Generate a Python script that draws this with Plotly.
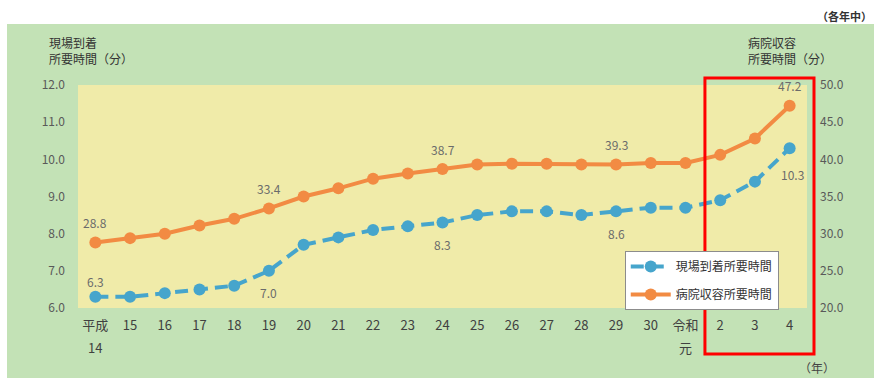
import plotly.graph_objects as go

# Fiscal years (Heisei 14 .. Reiwa 4); era names sit on a second line
years = ["平成", "15", "16", "17", "18", "19", "20", "21", "22", "23", "24",
         "25", "26", "27", "28", "29", "30", "令和", "2", "3", "4"]
year_second_line = {0: "14", 17: "元"}

# Minutes from call to arrival at scene (left axis)
arrival_min = [6.3, 6.3, 6.4, 6.5, 6.6, 7.0, 7.7, 7.9, 8.1, 8.2, 8.3,
               8.5, 8.6, 8.6, 8.5, 8.6, 8.7, 8.7, 8.9, 9.4, 10.3]

# Minutes from call to hospital admission (right axis)
hospital_min = [28.8, 29.4, 30.0, 31.1, 32.0, 33.4, 35.0, 36.1, 37.4, 38.1, 38.7,
                39.3, 39.4, 39.4, 39.3, 39.3, 39.5, 39.5, 40.6, 42.8, 47.2]

# Which points carry a value label
arrival_labelled = [0, 5, 10, 15, 20]
hospital_labelled = [0, 5, 10, 15, 20]

BLUE = "#46a5cc"
ORANGE = "#f28b43"
GREEN = "#c3e2b6"
YELLOW = "#f0eba9"
FONT = "Noto Sans CJK JP"

x_idx = list(range(len(years)))

fig = go.Figure()

fig.add_trace(go.Scatter(
    x=x_idx, y=arrival_min, name="現場到着所要時間",
    mode="lines+markers", yaxis="y", legendgroup="a",
    line=dict(color=BLUE, width=4, dash="13px,7px"),
    marker=dict(color=BLUE, size=12),
))
fig.add_trace(go.Scatter(
    x=x_idx, y=hospital_min, name="病院収容所要時間",
    mode="lines+markers", yaxis="y2", legendgroup="b",
    line=dict(color=ORANGE, width=4),
    marker=dict(color=ORANGE, size=12),
))

annotations = []
label_font = dict(family=FONT, size=12, color="#6b6b6b")
for i in arrival_labelled:
    above = (i == 0)
    annotations.append(dict(
        x=i, y=arrival_min[i], xref="x", yref="y",
        text=f"{arrival_min[i]:.1f}", showarrow=False, font=label_font,
        yshift=15 if above else (-26 if i == 20 else -22),
        xshift=3 if i == 20 else 0,
    ))
for i in hospital_labelled:
    annotations.append(dict(
        x=i, y=hospital_min[i], xref="x", yref="y2",
        text=f"{hospital_min[i]:.1f}", showarrow=False, font=label_font,
        yshift=20,
    ))

# second line of the era-name tick labels
for i, txt in year_second_line.items():
    annotations.append(dict(
        x=i, y=-0.175, xref="x", yref="paper", text=txt, showarrow=False,
        xanchor="center", yanchor="middle",
        font=dict(family=FONT, size=13, color="#404040"),
    ))

title_font = dict(family=FONT, size=12, color="#333333")
annotations += [
    dict(x=-0.042, y=1.155, xref="paper", yref="paper", xanchor="left",
         yanchor="middle", align="left", showarrow=False,
         text="現場到着<br>所要時間（分）", font=title_font),
    dict(x=0.917, y=1.155, xref="paper", yref="paper", xanchor="left",
         yanchor="middle", align="left", showarrow=False,
         text="病院収容<br>所要時間（分）", font=title_font),
    dict(x=1.092, y=1.31, xref="paper", yref="paper", xanchor="right",
         yanchor="middle", showarrow=False,
         text="<b>（各年中）</b>", font=dict(family=FONT, size=11, color="#333333")),
    dict(x=1.014, y=-0.265, xref="paper", yref="paper", xanchor="center",
         yanchor="middle", showarrow=False,
         text="（年）", font=dict(family=FONT, size=12, color="#444444")),
]

shapes = [
    # white margins around the green panel
    dict(type="rect", xref="paper", yref="paper", x0=-0.2, x1=1.2, y0=1.2735, y1=1.5,
         fillcolor="white", line_width=0, layer="below"),
    dict(type="rect", xref="paper", yref="paper", x0=-0.2, x1=-0.0974, y0=-0.5, y1=1.5,
         fillcolor="white", line_width=0, layer="below"),
    dict(type="rect", xref="paper", yref="paper", x0=-0.2, x1=1.2, y0=-0.5, y1=-0.3139,
         fillcolor="white", line_width=0, layer="below"),
    # highlight box around the latest years
    dict(type="rect", xref="paper", yref="paper", x0=0.860, x1=1.0096, y0=-0.206, y1=1.031,
         line=dict(color="#ff0000", width=3), fillcolor="rgba(0,0,0,0)", layer="above"),
]

fig.update_layout(
    width=874, height=380,
    margin=dict(l=78, r=67, t=85, b=72),
    paper_bgcolor=GREEN,
    plot_bgcolor=YELLOW,
    font=dict(family=FONT),
    showlegend=True,
    legend=dict(
        x=0.750, y=0.256, xanchor="left", yanchor="top",
        bgcolor="white", bordercolor="#8c8c8c", borderwidth=1,
        font=dict(family=FONT, size=12, color="#333333"),
        tracegroupgap=9, itemwidth=40,
    ),
    xaxis=dict(
        range=[-0.5, 20.5], tickmode="array", tickvals=x_idx, ticktext=years,
        showgrid=False, zeroline=False, showline=False, ticks="",
        tickfont=dict(family=FONT, size=13, color="#404040"),
        ticklabelstandoff=8,
    ),
    yaxis=dict(
        range=[6, 12], dtick=1, tickformat=".1f",
        showgrid=False, zeroline=False, showline=False, ticks="",
        tickfont=dict(family=FONT, size=12, color="#595959"),
        ticklabelstandoff=12,
    ),
    yaxis2=dict(
        range=[20, 50], dtick=5, tickformat=".1f", overlaying="y", side="right",
        showgrid=False, zeroline=False, showline=False, ticks="",
        tickfont=dict(family=FONT, size=12, color="#595959"),
        ticklabelstandoff=12,
    ),
    annotations=annotations,
    shapes=shapes,
)

fig.write_html("out.html")
